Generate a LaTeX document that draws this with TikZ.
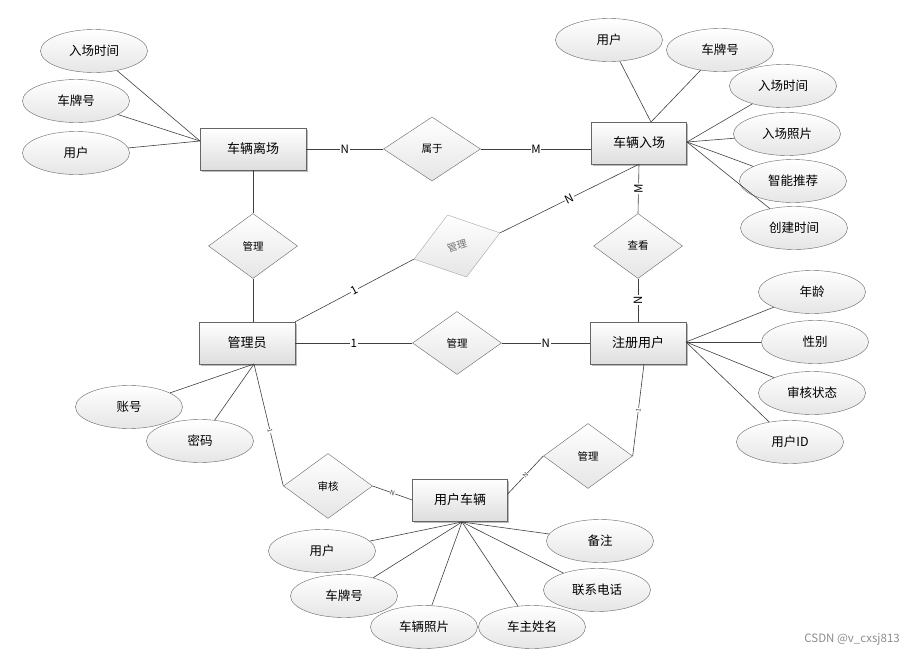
\documentclass[tikz,border=0pt]{standalone}
\usepackage{fontspec}
\setmainfont{Noto Sans CJK SC}
\usetikzlibrary{shapes.geometric,shadows,calc}
\begin{document}
\begin{tikzpicture}[x=1pt,y=-1pt,
 ent/.style={rectangle, draw=black!60, minimum height=42pt, inner sep=0pt, top color=white, bottom color=black!13, drop shadow={shadow xshift=1.5pt, shadow yshift=-1.5pt, fill=black!45, opacity=0.6}, font=\fontsize{13}{15}\selectfont},
 attr/.style={ellipse, draw=black!60, minimum width=107pt, minimum height=43pt, inner sep=0pt, top color=white, bottom color=black!10, font=\fontsize{12.5}{15}\selectfont},
 rel/.style={diamond, draw=black!60, minimum width=89pt, minimum height=65pt, inner sep=0pt, top color=white, bottom color=black!10, font=\fontsize{10.5}{12}\selectfont},
 conn/.style={draw=black!75, line width=0.6pt},
 card/.style={fill=white, inner sep=0.8pt, font=\fontsize{11.5}{12}\selectfont},
 tiny/.style={fill=white, inner sep=0.3pt, font=\fontsize{6.5}{7}\selectfont, text=black!75, sloped}
]
\useasboundingbox (0,0) rectangle (914,656);

% entities
\node[ent, minimum width=106pt] (lv) at (253,149) {车辆离场};
\node[ent, minimum width=95pt] (in) at (639,143) {车辆入场};
\node[ent, minimum width=96pt] (adm) at (247,343) {管理员};
\node[ent, minimum width=96pt] (reg) at (638,343) {注册用户};
\node[ent, minimum width=95pt] (car) at (460,500) {用户车辆};

% relationships
\node[rel, minimum width=97pt, minimum height=64pt] (r1) at (432,149) {属于};
\node[rel] (r2) at (253,246) {管理};
\node[rel, rotate=17, draw=black!35, text=black!55, minimum width=90pt, minimum height=65pt, font=\fontsize{10}{11}\selectfont] (r3) at (457,246) {管理};
\node[rel, minimum height=63pt] (r4) at (457,343) {管理};
\node[rel] (r5) at (638,246) {查看};
\node[rel] (r6) at (328,486) {审核};
\node[rel] (r7) at (588,456) {管理};

% attributes
\node[attr] (a1) at (94,51) {入场时间};
\node[attr] (a2) at (76,101) {车牌号};
\node[attr] (a3) at (76,153) {用户};
\node[attr] (b1) at (609,40) {用户};
\node[attr] (b2) at (720,50) {车牌号};
\node[attr] (b3) at (783,86) {入场时间};
\node[attr] (b4) at (787,134) {入场照片};
\node[attr] (b5) at (793,181) {智能推荐};
\node[attr] (b6) at (794,228) {创建时间};
\node[attr] (c1) at (812,292) {年龄};
\node[attr] (c2) at (815,342) {性别};
\node[attr] (c3) at (812,393) {审核状态};
\node[attr] (c4) at (790,442) {用户ID};
\node[attr] (d1) at (129,407) {账号};
\node[attr] (d2) at (200,441) {密码};
\node[attr] (e1) at (322,551) {用户};
\node[attr] (e2) at (344,596) {车牌号};
\node[attr] (e3) at (424,627) {车辆照片};
\node[attr] (e4) at (532,627) {车主姓名};
\node[attr] (e5) at (597,590) {联系电话};
\node[attr] (e6) at (600,541) {备注};

% convergence points
\coordinate (lvP) at (200,141);
\coordinate (inT) at (651,122);
\coordinate (inR) at (687,142);
\coordinate (regR) at (686,342);
\coordinate (admB) at (254,364);
\coordinate (carB) at (462,522);
\coordinate (regB) at (644,364);

% attribute lines
\foreach \a in {a1,a2,a3} \draw[conn] (\a) -- (lvP);
\foreach \a in {b1,b2} \draw[conn] (\a) -- (inT);
\foreach \a in {b3,b4,b5,b6} \draw[conn] (\a) -- (inR);
\foreach \a in {c1,c2,c3,c4} \draw[conn] (\a) -- (regR);
\foreach \a in {d1,d2} \draw[conn] (\a) -- (admB);
\foreach \a in {e1,e2,e3,e4,e5,e6} \draw[conn] (\a) -- (carB);

% relationship lines
\draw[conn] (lv.east) -- node[card]{N} (r1.west);
\draw[conn] (r1.east) -- node[card]{M} (r1.east -| in.west);
\draw[conn] (lv.south) -- (r2.north);
\draw[conn] (r2.south) -- (r2.south |- adm.north);
\draw[conn] (adm.north east) -- node[card, sloped]{1} (r3.west);
\draw[conn] (r3.east) -- node[card, sloped]{N} (in.south);
\draw[conn] (adm.east) -- node[card]{1} (r4.west);
\draw[conn] (r4.east) -- node[card]{N} (reg.west);
\draw[conn] (r5.north) -- node[card, sloped]{M} (in.south);
\draw[conn] (reg.north) -- node[card, sloped]{N} (r5.south);
\draw[conn] (admB) -- node[tiny, pos=0.55]{1} (r6.west);
\draw[conn] (r6.east) -- node[tiny]{N} (car.west);
\draw[conn] ($(car.east)+(0,-6)$) -- node[tiny]{N} (r7.west);
\draw[conn] (r7.east) -- node[tiny]{1} (regB);

% watermark
\node[text=black!45, font=\fontsize{11.5}{12}\selectfont, anchor=east, inner sep=0pt] (wm) at (900,639) {CSDN @v\_cxsj813};
\end{tikzpicture}
\end{document}
